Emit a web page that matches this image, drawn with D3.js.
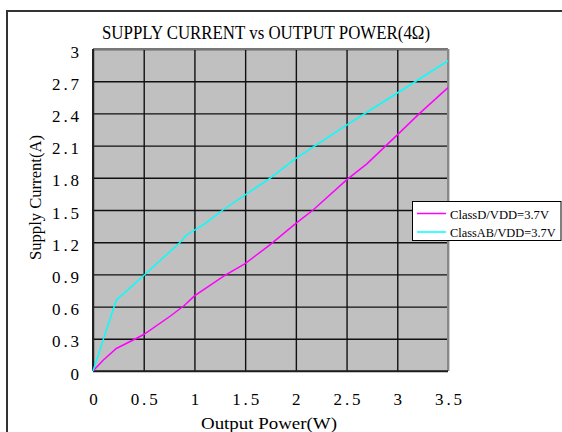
<!DOCTYPE html>
<html>
<head>
<meta charset="utf-8">
<script src="https://cdn.jsdelivr.net/npm/d3@7"></script>
<style>
  html, body { margin: 0; padding: 0; background: #ffffff; }
  svg { display: block; }
  text { font-family: "Liberation Serif", "DejaVu Serif", serif; fill: #000; }
</style>
</head>
<body>
<svg id="chart" width="562" height="432"></svg>
<script>
// ---- data ----
const xTicks = [0, 0.5, 1, 1.5, 2, 2.5, 3, 3.5];
const xTickLabels = ["0", "0.5", "1", "1.5", "2", "2.5", "3", "3.5"];
const yTicks = [0, 0.3, 0.6, 0.9, 1.2, 1.5, 1.8, 2.1, 2.4, 2.7, 3];
const yTickLabels = ["0", "0.3", "0.6", "0.9", "1.2", "1.5", "1.8", "2.1", "2.4", "2.7", "3"];

const classDPower   = [0, 0.1, 0.23, 0.43, 0.5, 0.76, 0.9, 1.0, 1.3, 1.5, 1.75, 2.0, 2.17, 2.5, 2.7, 3.0, 3.22, 3.5];
const classDCurrent = [0, 0.1, 0.21, 0.305, 0.34, 0.51, 0.61, 0.70, 0.89, 1.0, 1.18, 1.375, 1.5, 1.78, 1.93, 2.2, 2.40, 2.64];

const classABPower   = [0, 0.1, 0.23, 0.5, 0.86, 0.92, 1.1, 1.28, 1.5, 1.75, 2.0, 2.5, 3.0, 3.5];
const classABCurrent = [0, 0.29, 0.66, 0.89, 1.2, 1.265, 1.37, 1.5, 1.64, 1.80, 1.98, 2.29, 2.59, 2.89];

const seriesNames = ["ClassD/VDD=3.7V", "ClassAB/VDD=3.7V"];
const seriesColors = ["#ff00ff", "#00ffff"];

const titleText = "SUPPLY CURRENT vs OUTPUT POWER(4\u03A9)";
const xTitle = "Output Power(W)";
const yTitle = "Supply Current(A)";

// ---- layout ----
const svg = d3.select("#chart");
const L = 93, R = 448, T = 49, B = 371;

const x = d3.scaleLinear().domain([0, 3.5]).range([L, R]);
const y = d3.scaleLinear().domain([0, 3]).range([B, T]);

// outer frame
svg.append("rect")
  .attr("x", 7).attr("y", 11).attr("width", 620).attr("height", 500)
  .attr("fill", "none").attr("stroke", "#333").attr("stroke-width", 2);

// plot background
svg.append("rect")
  .attr("x", L).attr("y", T).attr("width", R - L).attr("height", B - T)
  .attr("fill", "#c0c0c0");

// grid via axes
const gx = svg.append("g").attr("transform", `translate(0,${B})`)
  .call(d3.axisBottom(x).tickValues(xTicks).tickSize(-(B - T)).tickFormat(""));
gx.select(".domain").remove();
gx.selectAll("line").attr("stroke", "#111").attr("stroke-width", 1.4);

const gy = svg.append("g").attr("transform", `translate(${L},0)`)
  .call(d3.axisLeft(y).tickValues(yTicks).tickSize(-(R - L)).tickFormat(""));
gy.select(".domain").remove();
gy.selectAll("line").attr("stroke", "#111").attr("stroke-width", 1.4);

// plot frame
svg.append("line").attr("x1", L).attr("x2", R).attr("y1", T).attr("y2", T)
  .attr("stroke", "#777").attr("stroke-width", 2);
svg.append("line").attr("x1", R).attr("x2", R).attr("y1", T).attr("y2", B)
  .attr("stroke", "#888").attr("stroke-width", 2);
svg.append("line").attr("x1", L).attr("x2", L).attr("y1", T).attr("y2", B)
  .attr("stroke", "#222").attr("stroke-width", 2);
svg.append("line").attr("x1", L).attr("x2", R).attr("y1", B).attr("y2", B)
  .attr("stroke", "#222").attr("stroke-width", 1.6);

// tick labels
const xl = svg.append("g").attr("transform", `translate(0,${B})`)
  .call(d3.axisBottom(x).tickValues(xTicks).tickSize(0).tickPadding(0)
    .tickFormat((d, i) => xTickLabels[i]));
xl.select(".domain").remove();
xl.selectAll("text")
  .attr("y", 34).attr("dy", null)
  .style("font-size", "17px")
  .style("font-family", "'Liberation Serif', serif")
  .each(function(d, i) {
    const s = xTickLabels[i];
    if (s.length > 1) d3.select(this).attr("textLength", 27).attr("lengthAdjust", "spacing");
  });

const yl = svg.append("g").attr("transform", `translate(${L},0)`)
  .call(d3.axisLeft(y).tickValues(yTicks).tickSize(0).tickPadding(0)
    .tickFormat((d, i) => yTickLabels[i]));
yl.select(".domain").remove();
yl.selectAll("text")
  .attr("x", -14).attr("dy", null).attr("y", 8)
  .style("font-size", "17px")
  .style("font-family", "'Liberation Serif', serif")
  .each(function(d, i) {
    const s = yTickLabels[i];
    if (s.length > 1) d3.select(this).attr("textLength", 27).attr("lengthAdjust", "spacing");
  });

// lines
const line = d3.line().x(d => x(d[0])).y(d => y(d[1]));
const dData = d3.zip(classDPower, classDCurrent);
const abData = d3.zip(classABPower, classABCurrent);
svg.append("path").datum(dData).attr("d", line)
  .attr("fill", "none").attr("stroke", seriesColors[0]).attr("stroke-width", 1.5);
svg.append("path").datum(abData).attr("d", line)
  .attr("fill", "none").attr("stroke", seriesColors[1]).attr("stroke-width", 1.5);

// title
svg.append("text").attr("x", 102).attr("y", 39)
  .attr("textLength", 328).attr("lengthAdjust", "spacingAndGlyphs")
  .style("font-size", "18.5px").text(titleText);

// x axis title
svg.append("text").attr("x", 201).attr("y", 429)
  .attr("textLength", 136).attr("lengthAdjust", "spacingAndGlyphs")
  .style("font-size", "17.5px").text(xTitle);

// y axis title
svg.append("text")
  .attr("transform", "translate(41,260) rotate(-90)")
  .attr("x", 0).attr("y", 0)
  .attr("textLength", 125).attr("lengthAdjust", "spacingAndGlyphs")
  .style("font-size", "17px").text(yTitle);

// legend
const lg = svg.append("g");
lg.append("rect").attr("x", 412.5).attr("y", 201.5).attr("width", 148.5).attr("height", 39)
  .attr("fill", "#fff").attr("stroke", "#000").attr("stroke-width", 1);
const rowsY = [213.5, 232];
seriesNames.forEach((name, i) => {
  lg.append("line").attr("x1", 417).attr("x2", 446).attr("y1", rowsY[i]).attr("y2", rowsY[i])
    .attr("stroke", seriesColors[i]).attr("stroke-width", 1.5);
  lg.append("text").attr("x", 450).attr("y", rowsY[i] + 5)
    .attr("textLength", name.length * 6.6).attr("lengthAdjust", "spacingAndGlyphs")
    .style("font-size", "13px").text(name);
});
</script>
</body>
</html>
